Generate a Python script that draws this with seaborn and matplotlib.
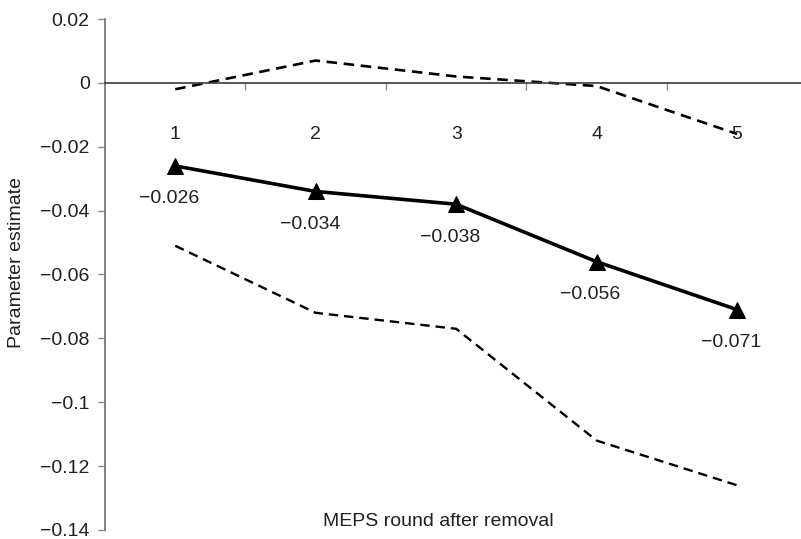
import matplotlib
matplotlib.use("Agg")
import matplotlib.pyplot as plt
import seaborn as sns
import pandas as pd
import numpy as np
from matplotlib.ticker import FixedLocator, FuncFormatter

rounds = ["1", "2", "3", "4", "5"]
estimate = [-0.026, -0.034, -0.038, -0.056, -0.071]
upper_ci = [-0.002, 0.007, 0.002, -0.001, -0.016]
lower_ci = [-0.051, -0.072, -0.077, -0.112, -0.126]
est_labels = ["\u22120.026", "\u22120.034", "\u22120.038", "\u22120.056", "\u22120.071"]
y_ticks = [0.02, 0.0, -0.02, -0.04, -0.06, -0.08, -0.10, -0.12, -0.14]

sns.set_style("white")
plt.rcParams["font.family"] = ["Liberation Sans", "DejaVu Sans"]
text_color = "#231f20"
fs = 14

pos = np.arange(len(rounds))
df = pd.DataFrame({"pos": pos, "estimate": estimate, "upper": upper_ci, "lower": lower_ci})

fig = plt.figure(figsize=(8.01, 5.39), dpi=100)
ax = fig.add_axes([105 / 801, 9 / 539, 1 - 105 / 801, (530 - 19) / 539])

sns.lineplot(data=df, x="pos", y="upper", ax=ax, color="black", linewidth=1.9,
             linestyle=(0, (4.0, 2.5)))
sns.lineplot(data=df, x="pos", y="lower", ax=ax, color="black", linewidth=1.7,
             linestyle=(0, (4.0, 2.5)))
sns.lineplot(data=df, x="pos", y="estimate", ax=ax, color="black", linewidth=2.6,
             marker="^", markersize=12, markeredgecolor="black")

for x, y, lab in zip(pos, estimate, est_labels):
    ax.annotate(lab, (x, y), xytext=(-6, -33), textcoords="offset pixels",
                ha="center", va="center", fontsize=fs, color=text_color)

ax.set_xlim(-0.5, 4.455)
ax.set_ylim(-0.14, 0.02)

ax.yaxis.set_major_locator(FixedLocator(y_ticks))
def fmt(v, _):
    v = round(v, 2)
    if abs(v) < 1e-9:
        return "0"
    s = f"{v:g}"
    return s.replace("-", "\u2212")
ax.yaxis.set_major_formatter(FuncFormatter(fmt))
ax.tick_params(axis="y", which="major", length=5, width=1, color="#8a8a8a",
               labelsize=fs, labelcolor=text_color, pad=6, direction="out", left=True)

ax.set_xticks(pos)
ax.set_xticklabels(rounds)
ax.set_xticks(pos[:-1] + 0.5, minor=True)
ax.tick_params(axis="x", which="major", length=0, pad=31, labelsize=fs, labelcolor=text_color)
ax.tick_params(axis="x", which="minor", length=5, width=1, color="#8a8a8a",
               direction="out", bottom=True)

for s in ["top", "right"]:
    ax.spines[s].set_visible(False)
ax.spines["left"].set_color("#6e6e6e")
ax.spines["left"].set_linewidth(1.2)
ax.spines["bottom"].set_position(("data", 0))
ax.spines["bottom"].set_color("#3a3a3a")
ax.spines["bottom"].set_linewidth(1.2)

ax.set_xlabel("")
ax.set_ylabel("")
fig.text(438 / 801, 1 - 522 / 539, "MEPS round after removal", ha="center", va="center",
         fontsize=fs, color=text_color)
fig.text(17 / 801, 1 - 262 / 539, "Parameter estimate", ha="center", va="center",
         rotation=90, fontsize=fs, color=text_color)

fig.savefig("out.png", dpi=100)
